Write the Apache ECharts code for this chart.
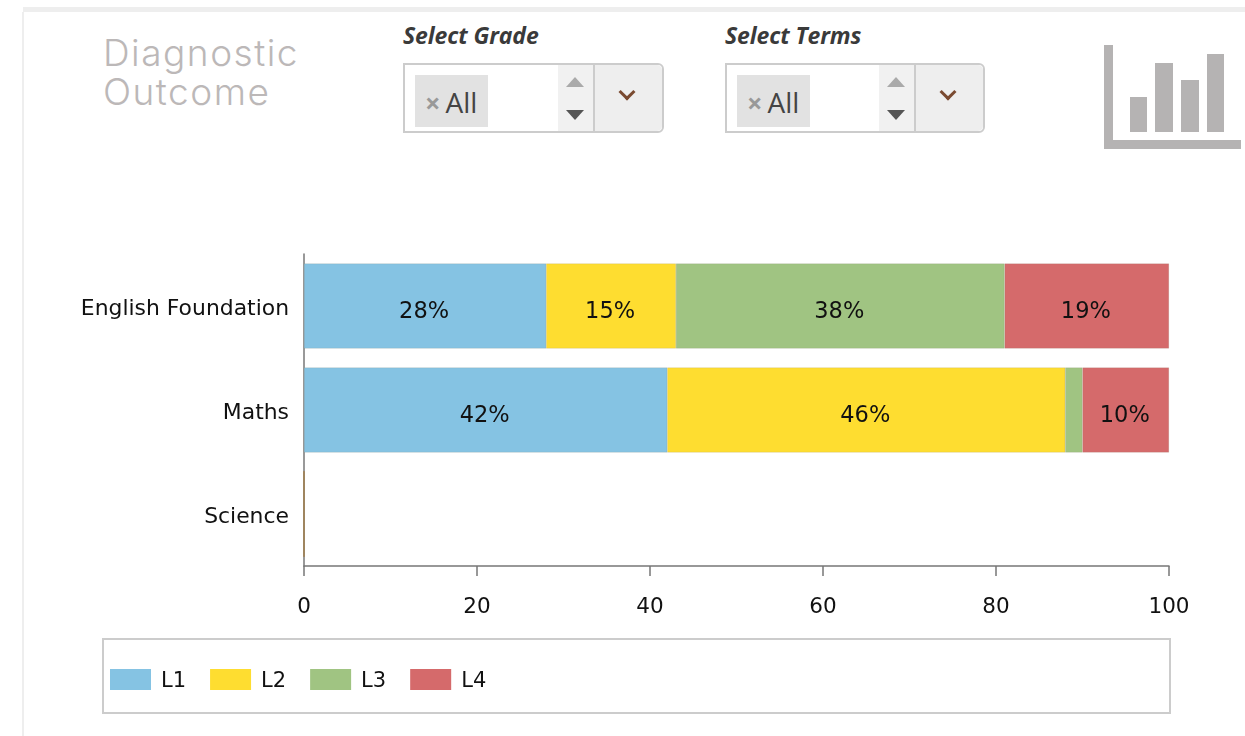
<!DOCTYPE html>
<html lang="en">
<head>
  <meta charset="utf-8" />
  <title>Diagnostic Outcome</title>
  <style>
    html, body { margin: 0; padding: 0; background: #fff; overflow: hidden; }
    #page { position: relative; width: 1245px; height: 736px; }
    #chart { position: absolute; left: 0; top: 0; width: 1245px; height: 736px; }
    .abs { position: absolute; }
    .band { left: 23px; top: 7px; width: 1222px; height: 5px; background: #eeeeee; }
    .side { left: 22px; top: 12px; width: 2px; height: 724px; background: #eeeeee; }
    .title { left: 103px; top: 33px; font: 300 37px/39px Inter, Lato, sans-serif; letter-spacing: 1.5px; color: #bcb8b8; }
    .lbl { top: 21px; font: italic 700 23px/28px "Open Sans", sans-serif; letter-spacing: -0.1px; color: #3a3a3a; }
    .select { top: 63px; width: 257px; height: 66px; border: 2px solid #cccccc; border-radius: 0 6px 6px 0; background: #fff; }
    .chip { position: absolute; left: 10px; top: 10px; height: 52px; width: 73px; box-sizing: border-box; background: #e2e2e2; color: #444; font: 28px/55px "Open Sans", sans-serif; padding-left: 10px; white-space: nowrap; }
    .chip i { font: 700 27px "Open Sans", sans-serif; font-style: normal; color: #999; margin-right: 5px; }
    .spin { position: absolute; right: 69px; top: 0; width: 35px; height: 66px; background: #f1f1f1; }
    .up { position: absolute; left: 8px; top: 12px; border: 9px solid transparent; border-top: 0; border-bottom: 10px solid #aaaaaa; }
    .down { position: absolute; left: 8px; top: 45px; border: 9px solid transparent; border-bottom: 0; border-top: 10px solid #555555; }
    .btn { position: absolute; right: 0; top: 0; width: 67px; height: 66px; background: #eeeeee; border-left: 2px solid #cccccc; border-radius: 0 5px 5px 0; }
    .chev { position: absolute; left: 26px; top: 21px; width: 9px; height: 9px; border-right: 3px solid #7a4a30; border-bottom: 3px solid #7a4a30; transform: rotate(45deg); }
    .ico { position: absolute; background: #b5b3b3; }
    .legend-box { left: 102px; top: 638px; width: 1065px; height: 72px; border: 2px solid #cccccc; }
  </style>
</head>
<body>
<div id="page">
  <div class="abs band"></div>
  <div class="abs side"></div>
  <div class="abs title">Diagnostic<br>Outcome</div>

  <div class="abs lbl" style="left:403px">Select Grade</div>
  <div class="abs select" style="left:403px">
    <div class="chip"><i>×</i>All</div>
    <div class="spin"><div class="up"></div><div class="down"></div></div>
    <div class="btn"><div class="chev"></div></div>
  </div>

  <div class="abs lbl" style="left:725px">Select Terms</div>
  <div class="abs select" style="left:725px;width:256px">
    <div class="chip"><i>×</i>All</div>
    <div class="spin"><div class="up"></div><div class="down"></div></div>
    <div class="btn"><div class="chev"></div></div>
  </div>

  <div class="ico" style="left:1104px;top:45px;width:9px;height:104px"></div>
  <div class="ico" style="left:1104px;top:140px;width:137px;height:9px"></div>
  <div class="ico" style="left:1130px;top:97px;width:17px;height:35px"></div>
  <div class="ico" style="left:1155px;top:63px;width:18px;height:69px"></div>
  <div class="ico" style="left:1181px;top:80px;width:18px;height:52px"></div>
  <div class="ico" style="left:1207px;top:54px;width:17px;height:78px"></div>

  <div class="abs legend-box"></div>
  <div id="chart"></div>
</div>

<script src="https://cdn.jsdelivr.net/npm/echarts@6/dist/echarts.min.js"></script>
<script type="text/javascript">
    var categories = ['English Foundation', 'Maths', 'Science'];
    var levels = ['L1', 'L2', 'L3', 'L4'];
    var colors = ['#85c3e3', '#fedd30', '#a0c482', '#d56a6b'];
    var l1 = [28, 42, 0];
    var l2 = [15, 46, 0];
    var l3 = [38, 2, 0];
    var l4 = [19, 10, 0];
    var xTicks = [0, 20, 40, 60, 80, 100];

    var font = '"DejaVu Sans", Verdana, sans-serif';
    var myChart = echarts.init(document.getElementById('chart'), null, { renderer: 'canvas' });

    // labels only fit on the wider segments
    function pct(p) {
        return p.value >= 5 ? p.value + '%' : '';
    }

    // an empty row still shows as a thin brown stroke on the axis
    function toItems(vals) {
        return vals.map(function (v) {
            return v === 0 ? { value: v, itemStyle: { borderColor: '#a08560', borderWidth: 1.5 } } : v;
        });
    }

    var series = [l1, l2, l3, l4].map(function (vals, i) {
        return {
            name: levels[i],
            type: 'bar',
            stack: 'total',
            barWidth: 85,
            data: toItems(vals),
            itemStyle: { color: colors[i], borderColor: 'rgba(120,110,80,0.3)', borderWidth: 0.5 },
            label: { show: true, position: 'inside', offset: [-1, 6], formatter: pct, color: '#111', fontFamily: font, fontSize: 22.5 }
        };
    });

    var option = {
        animation: false,
        legend: {
            left: 110,
            top: 669,
            padding: 0,
            itemWidth: 41,
            itemHeight: 21,
            itemGap: 24,
            icon: 'rect',
            data: levels,
            selectedMode: false,
            itemStyle: { borderWidth: 0 },
            // plain text ignores vertical padding, rich text does not
            formatter: function (name) { return '{a|' + name + '}'; },
            textStyle: {
                rich: { a: { color: '#111', fontFamily: font, fontSize: 21, padding: [4, 0, 0, 5] } }
            }
        },
        grid: { left: 304, top: 254, width: 865, height: 312 },
        xAxis: {
            type: 'value',
            min: xTicks[0],
            max: xTicks[xTicks.length - 1],
            interval: xTicks[1] - xTicks[0],
            splitLine: { show: false },
            axisLine: { show: true, lineStyle: { color: '#777', width: 1.5 } },
            axisTick: { show: true, length: 10, lineStyle: { color: '#777', width: 1.5 } },
            axisLabel: { color: '#111', fontFamily: font, fontSize: 21.5, margin: 30 }
        },
        yAxis: {
            type: 'category',
            inverse: true,
            data: categories,
            axisLine: { show: true, lineStyle: { color: '#777', width: 1.5 } },
            axisTick: { show: false },
            axisLabel: {
                margin: 15,
                formatter: '{a|{value}}',
                rich: { a: { color: '#111', fontFamily: font, fontSize: 21.9, padding: [7, 0, 0, 0] } }
            }
        },
        series: series
    };
    myChart.setOption(option);
</script>
</body>
</html>
